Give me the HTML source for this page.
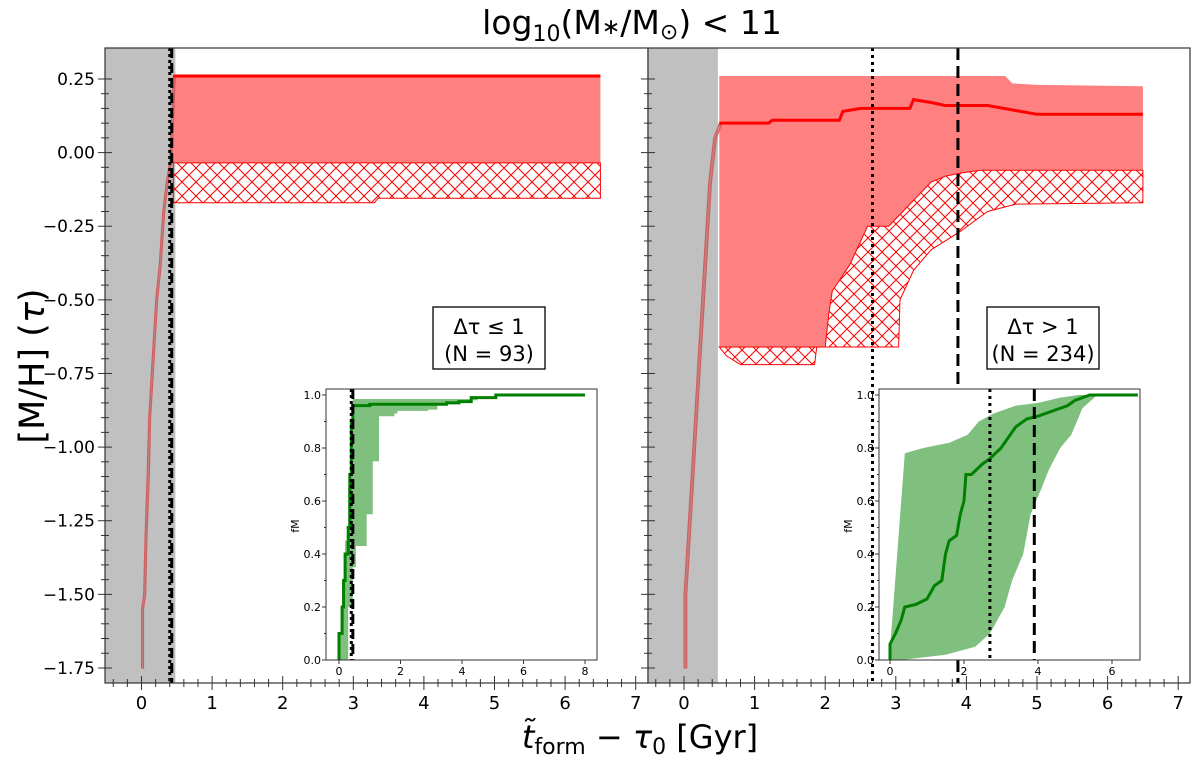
<!DOCTYPE html>
<html><head><meta charset="utf-8"><style>
html,body{margin:0;padding:0;background:#fff;}
svg{display:block;font-family:"DejaVu Sans","Liberation Sans",sans-serif;}
</style></head><body>
<svg id="fig" width="1200" height="762" xmlns="http://www.w3.org/2000/svg">
<defs>
<pattern id="hatch" patternUnits="userSpaceOnUse" width="14" height="14">
<path d="M0,0 L14,14 M14,0 L0,14" stroke="#ff0000" stroke-width="1"/>
</pattern>
</defs>
<text x="632" y="34" font-size="33" text-anchor="middle">log<tspan font-size="22" dy="7">10</tspan><tspan dy="-7">(M</tspan><tspan font-size="22">∗</tspan>/M<tspan font-size="22" dy="5">⊙</tspan><tspan dy="-5">) &lt; 11</tspan></text>
<text x="640" y="748" font-size="32" text-anchor="middle"><tspan font-style="italic">t̃</tspan><tspan font-size="22" dy="6">form</tspan><tspan dy="-6"> − </tspan><tspan font-style="italic">τ</tspan><tspan font-size="22" dy="6">0</tspan><tspan dy="-6"> [Gyr]</tspan></text>
<text transform="translate(44,366) rotate(-90)" font-size="35" text-anchor="middle">[M/H] (<tspan font-style="italic">τ</tspan>)</text>
<g id="root"></g>
</svg>
<script>
// ---- data ----
const yTicks = [0.25, 0.00, -0.25, -0.50, -0.75, -1.00, -1.25, -1.50, -1.75];
const yTickLabels = ["0.25","0.00","−0.25","−0.50","−0.75","−1.00","−1.25","−1.50","−1.75"];
const xTicks = [0,1,2,3,4,5,6,7];
const xTickLabels = ["0","1","2","3","4","5","6","7"];
const grayEnd = 0.48;
// left panel
const leftVLine = 0.4;
const leftTrackX = [0,0,0.03,0.05,0.08,0.1,0.15,0.2,0.25,0.3,0.35,0.4,0.45];
const leftTrackY = [-1.75,-1.55,-1.5,-1.3,-1.1,-0.9,-0.7,-0.5,-0.38,-0.2,-0.1,-0.03,0.26];
const leftBandX = [0.45,6.5];
const leftUpper = [0.26,0.26];
const leftMid = [-0.035,-0.035];
const leftLowX = [0.45,3.3,3.35,6.5];
const leftLow = [-0.17,-0.17,-0.155,-0.155];
const leftMedX = [0.45,6.5];
const leftMed = [0.26,0.26];
// right panel
const rightDotted = 2.67;
const rightDashed = 3.88;
const rightTrackX = [0,0,0.05,0.1,0.15,0.2,0.25,0.3,0.35,0.42,0.5];
const rightTrackY = [-1.75,-1.5,-1.3,-1.1,-0.9,-0.7,-0.5,-0.3,-0.1,0.05,0.1];
const rightUpX = [0.5,4.55,4.65,5.0,6.5];
const rightUp = [0.26,0.26,0.235,0.23,0.225];
const rightMidX = [0.5,2.0,2.05,2.1,2.35,2.6,2.9,3.1,3.3,3.5,3.7,3.9,4.2,6.5];
const rightMid = [-0.66,-0.66,-0.55,-0.47,-0.38,-0.25,-0.25,-0.2,-0.15,-0.1,-0.08,-0.07,-0.06,-0.06];
const rightLowX = [0.5,0.6,0.8,1.85,1.88,3.04,3.06,3.25,3.5,3.9,4.3,4.7,6.5];
const rightLow = [-0.66,-0.69,-0.72,-0.72,-0.66,-0.66,-0.5,-0.4,-0.33,-0.27,-0.2,-0.175,-0.17];
const rightMedX = [0.5,1.2,1.25,2.2,2.25,2.5,3.2,3.25,3.5,3.7,4.3,5.0,6.5];
const rightMed = [0.1,0.1,0.11,0.11,0.14,0.15,0.15,0.18,0.17,0.16,0.16,0.13,0.13];
// insets
const inLTicksX = [0,2,4,6,8];
const inRTicksX = [0,2,4,6];
const inTicksY = [0,0.2,0.4,0.6,0.8,1.0];
const inTicksYLabels = ["0.0","0.2","0.4","0.6","0.8","1.0"];
const inLMedX = [0,0,0.05,0.1,0.15,0.2,0.3,0.35,0.4,0.45,1.0,3.5,3.9,4.3,5.1,8];
const inLMed = [0,0.1,0.1,0.2,0.3,0.4,0.5,0.7,0.9,0.96,0.965,0.97,0.975,0.99,1.0,1.0];
const inLUpX = [0,0.05,0.1,0.2,0.3,0.4,0.45,4.0,4.5];
const inLUp = [0,0.15,0.3,0.45,0.65,0.9,0.985,0.985,1.0];
const inLLowX = [0.1,0.3,0.45,0.55,0.85,0.9,1.1,1.3,1.8,1.9,2.9,3.2,4.0,4.5];
const inLLow = [0,0.2,0.35,0.43,0.43,0.55,0.75,0.92,0.93,0.94,0.945,0.97,0.98,1.0];
const inRMedX = [0,0,0.15,0.3,0.4,0.7,1.0,1.2,1.4,1.5,1.6,1.8,1.9,2.0,2.05,2.2,2.5,2.7,3.0,3.2,3.4,3.7,4.0,4.4,4.8,5.0,5.4,6.7];
const inRMed = [0,0.06,0.1,0.15,0.2,0.21,0.23,0.28,0.3,0.4,0.45,0.47,0.55,0.6,0.7,0.7,0.74,0.76,0.8,0.84,0.88,0.91,0.92,0.94,0.96,0.98,1.0,1.0];
const inRUpX = [0,0.4,0.9,1.6,2.1,2.4,2.8,3.4,4.0,4.6,5.1,5.5];
const inRUp = [0.04,0.78,0.8,0.82,0.85,0.9,0.93,0.96,0.97,0.99,1.0,1.0];
const inRLowX = [0,0.3,1.5,2.3,2.7,3.1,3.3,3.6,3.8,4.1,4.3,4.6,4.9,5.2,5.6];
const inRLow = [0,0,0.02,0.05,0.1,0.2,0.3,0.4,0.55,0.65,0.72,0.8,0.85,0.95,1.0];

// ---- drawing ----
const NS="http://www.w3.org/2000/svg";
const root=document.getElementById('root');
function mk(tag,attrs,parent){const e=document.createElementNS(NS,tag);for(const k in attrs)e.setAttribute(k,attrs[k]);(parent||root).appendChild(e);return e;}
const yScale=v=>152.6-v*294.5;
const ax=[{x0:141.5,left:105,right:648},{x0:684,left:648,right:1190}];
const TOP=48,BOT=683;
function pts(xs,ys,sx,sy){return xs.map((x,i)=>sx(x).toFixed(1)+','+sy(ys[i]).toFixed(1));}
function stepPts(xs,ys,sx,sy){const p=[];for(let i=0;i<xs.length;i++){if(i>0)p.push(sx(xs[i]).toFixed(1)+','+sy(ys[i-1]).toFixed(1));p.push(sx(xs[i]).toFixed(1)+','+sy(ys[i]).toFixed(1));}return p;}

ax.forEach((a,pi)=>{
  const sx=v=>a.x0+v*70.6;
  const g=mk('g',{});
  
  
  let r=mk('rect',{x:a.left,y:TOP,width:sx(grayEnd)-a.left,height:BOT-TOP,fill:'#c0c0c0'},g);
  
  
  if(pi===0){
    let f=mk('polygon',{points:pts(leftBandX,leftUpper,sx,yScale).concat(pts(leftBandX,leftMid,sx,yScale).reverse()).join(' '),fill:'#ff8080'},g);
    
    
    let h=mk('polygon',{points:pts(leftBandX,leftMid,sx,yScale).concat(pts(leftLowX,leftLow,sx,yScale).reverse()).join(' '),fill:'url(#hatch)',stroke:'#ff0000','stroke-width':1},g);
    
    
    let tb=mk('polygon',{points:pts(leftTrackX,leftTrackY,sx,yScale).concat(pts(leftTrackX.map(x=>x+0.03),leftTrackY,sx,yScale).reverse()).join(' '),fill:'rgba(205,80,80,0.6)',stroke:'#cd5c5c','stroke-width':1},g);
    
    
    let m=mk('polyline',{points:stepPts(leftMedX,leftMed,sx,yScale).join(' '),fill:'none',stroke:'#ff0000','stroke-width':3},g);
    
    
    let v1=mk('line',{x1:sx(leftVLine),x2:sx(leftVLine),y1:TOP,y2:BOT,stroke:'#000','stroke-width':3,'stroke-dasharray':'3,3'},g);
    
    
    let v2=mk('line',{x1:sx(leftVLine)+2,x2:sx(leftVLine)+2,y1:TOP,y2:BOT,stroke:'#000','stroke-width':3,'stroke-dasharray':'10,5'},g);
    
    
  } else {
    let f=mk('polygon',{points:pts(rightUpX,rightUp,sx,yScale).concat(pts(rightMidX,rightMid,sx,yScale).reverse()).join(' '),fill:'#ff8080'},g);
    
    
    let h=mk('polygon',{points:pts(rightMidX,rightMid,sx,yScale).concat(pts(rightLowX,rightLow,sx,yScale).reverse()).join(' '),fill:'url(#hatch)',stroke:'#ff0000','stroke-width':1},g);
    
    
    let tb=mk('polygon',{points:pts(rightTrackX,rightTrackY,sx,yScale).concat(pts(rightTrackX.map(x=>x+0.04),rightTrackY,sx,yScale).reverse()).join(' '),fill:'rgba(205,80,80,0.6)',stroke:'#cd5c5c','stroke-width':1},g);
    
    
    let m=mk('polyline',{points:pts(rightMedX,rightMed,sx,yScale).join(' '),fill:'none',stroke:'#ff0000','stroke-width':3},g);
    
    
    let v1=mk('line',{x1:sx(rightDotted),x2:sx(rightDotted),y1:TOP,y2:BOT,stroke:'#000','stroke-width':3,'stroke-dasharray':'3,4'},g);
    
    
    let v2=mk('line',{x1:sx(rightDashed),x2:sx(rightDashed),y1:TOP,y2:BOT,stroke:'#000','stroke-width':3,'stroke-dasharray':'12,6'},g);
    
    
  }
  let fr=mk('rect',{x:a.left,y:TOP,width:a.right-a.left,height:BOT-TOP,fill:'none',stroke:'#333','stroke-width':1.2},g);
  
  
  for(let v=-1.75;v<=0.3;v+=0.05){const y=yScale(v);const maj=Math.abs(v/0.25-Math.round(v/0.25))<1e-6;mk('line',{x1:a.left-(maj?7:4),x2:a.left+(maj?7:4),y1:y,y2:y,stroke:'#333','stroke-width':1},g);}
  if(pi===0){yTicks.forEach((v,i)=>{const t=mk('text',{x:a.left-10,y:yScale(v)+6,'font-size':17,'text-anchor':'end'},g);t.textContent=yTickLabels[i];});}
  for(let k=-2;k<=36;k++){const v=k*0.2;const x=sx(v);if(x<a.left-0.5||x>a.right+0.5)continue;const maj=k%5===0;mk('line',{x1:x,x2:x,y1:BOT-(maj?7:4),y2:BOT+(maj?7:4),stroke:'#333','stroke-width':1},g);}
  xTicks.forEach((v,i)=>{const t=mk('text',{x:sx(v),y:BOT+26,'font-size':18,'text-anchor':'middle'},g);t.textContent=xTickLabels[i];});
});

function annot(cx,l1,l2,name){
  const g=mk('g',{});
  
  
  mk('rect',{x:cx-56,y:307,width:112,height:62,fill:'#fff',stroke:'#000','stroke-width':1.3},g);
  const t1=mk('text',{x:cx,y:334,'font-size':21,'text-anchor':'middle'},g);t1.textContent=l1;
  const t2=mk('text',{x:cx,y:361,'font-size':21,'text-anchor':'middle'},g);t2.textContent=l2;
}
annot(489,'Δτ ≤ 1','(N = 93)','annotation-short');
annot(1043,'Δτ > 1','(N = 234)','annotation-long');

function inset(o){
  const g=mk('g',{});
  
  
  const sx=v=>o.x0+v*o.k, sy=v=>660-v*265;
  const P=o.step?stepPts:pts;
  mk('rect',{x:o.l,y:389,width:o.r-o.l,height:271,fill:'#fff'},g);
  let b=mk('polygon',{points:P(o.ux,o.uy,sx,sy).concat(P(o.lx,o.ly,sx,sy).reverse()).join(' '),fill:'#7fc07f'},g);
  
  
  let m=mk('polyline',{points:P(o.mx,o.my,sx,sy).join(' '),fill:'none',stroke:'#007f00','stroke-width':3},g);
  
  
  o.lines.forEach(L=>{let l=mk('line',{x1:sx(L.v),x2:sx(L.v),y1:389,y2:660,stroke:'#000','stroke-width':L.w,'stroke-dasharray':L.d},g);});
  mk('rect',{x:o.l,y:389,width:o.r-o.l,height:271,fill:'none',stroke:'#333','stroke-width':1},g);
  for(let v=0;v<=1.001;v+=0.1){const y=sy(v);const maj=Math.round(v*10)%2===0;mk('line',{x1:o.l-(maj?4:2),x2:o.l,y1:y,y2:y,stroke:'#333'},g);}
  inTicksY.forEach((v,i)=>{const t=mk('text',{x:o.l-5,y:sy(v)+4,'font-size':11,'text-anchor':'end'},g);t.textContent=inTicksYLabels[i];});
  o.xt.forEach(v=>{mk('line',{x1:sx(v),x2:sx(v),y1:660,y2:664,stroke:'#333'},g);const t=mk('text',{x:sx(v),y:675,'font-size':11,'text-anchor':'middle'},g);t.textContent=String(v);});
  const yl=mk('text',{transform:`translate(${o.l-27},526) rotate(-90)`,'font-size':11,'text-anchor':'middle'},g);yl.textContent='fM';
  
  
}
inset({name:'inset-short',step:true,l:326,r:597,x0:339,k:30.75,xt:inLTicksX,mx:inLMedX,my:inLMed,ux:inLUpX,uy:inLUp,lx:inLLowX,ly:inLLow,
  lines:[{v:0.4,w:3,d:'3,3'},{v:0.45,w:3,d:'10,5'}]});
inset({name:'inset-long',step:false,l:879,r:1140,x0:890,k:37,xt:inRTicksX,mx:inRMedX,my:inRMed,ux:inRUpX,uy:inRUp,lx:inRLowX,ly:inRLow,
  lines:[{v:2.7,w:3,d:'3,4'},{v:3.9,w:3,d:'12,6'}]});
</script>
</body></html>
